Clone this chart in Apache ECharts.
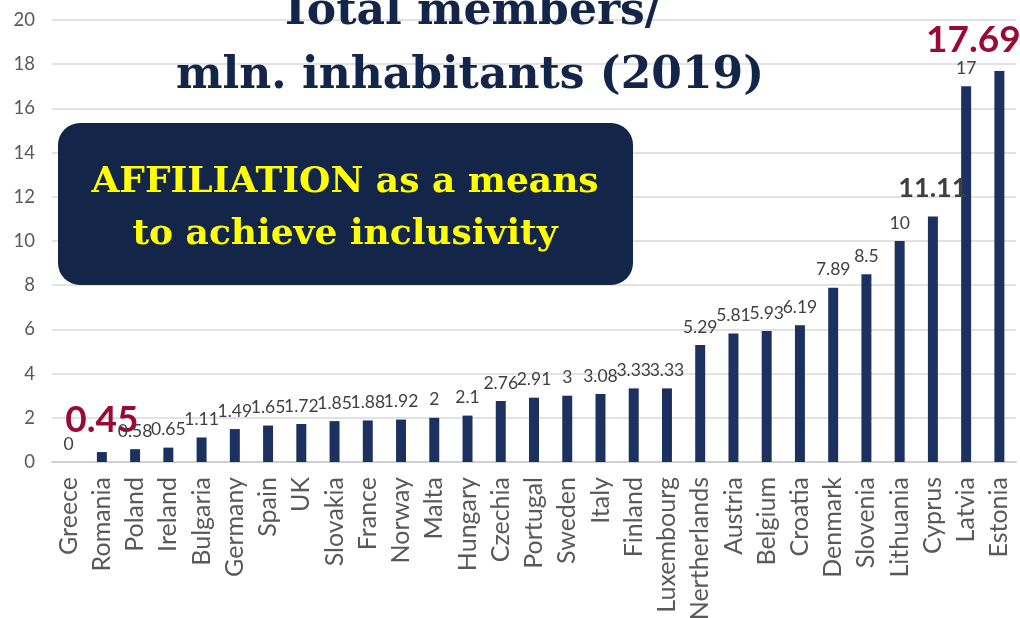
<!DOCTYPE html>
<html>
<head>
<meta charset="utf-8">
<script src="https://cdn.jsdelivr.net/npm/echarts@6/dist/echarts.min.js"></script>
<style>
html,body{margin:0;padding:0;background:#fff;}
#chart{width:1020px;height:618px;}
</style>
</head>
<body>
<div id="chart"></div>
<script>
const categories = ['Greece','Romania','Poland','Ireland','Bulgaria','Germany','Spain','UK','Slovakia','France','Norway','Malta','Hungary','Czechia','Portugal','Sweden','Italy','Finland','Luxembourg','Nertherlands','Austria','Belgium','Croatia','Denmark','Slovenia','Lithuania','Cyprus','Latvia','Estonia'];
const values = [0,0.45,0.58,0.65,1.11,1.49,1.65,1.72,1.85,1.88,1.92,2,2.1,2.76,2.91,3,3.08,3.33,3.33,5.29,5.81,5.93,6.19,7.89,8.5,10,11.11,17,17.69];
const yTicks = [0,2,4,6,8,10,12,14,16,18,20];
const titleLines = ['Total members/','mln. inhabitants (2019)'];
const boxLines = ['AFFILIATION as a means','to achieve inclusivity'];

const highlight = {
  'Romania': {fontSize:37, fontWeight:'bold', color:'#9b0a36', distance:13},
  'Estonia': {fontSize:37, fontWeight:'bold', color:'#9b0a36', distance:12, offset:[-26,0]},
  'Cyprus':  {fontSize:27, fontWeight:'bold', color:'#404040', distance:15}
};

const seriesData = values.map((v,i)=>{
  const h = highlight[categories[i]];
  return h ? {value:v, label:h} : v;
});

const chart = echarts.init(document.getElementById('chart'), null, {renderer:'canvas'});
chart.setOption({
  animation:false,
  grid:{left:52,right:4,top:20,bottom:156,containLabel:false,outerBoundsMode:'none'},
  xAxis:{
    type:'category',
    data:categories,
    axisLine:{lineStyle:{color:'#d0d0d0',width:2}},
    axisTick:{show:false},
    axisLabel:{rotate:90,interval:0,margin:15,color:'#595959',fontFamily:'Lato',fontSize:25}
  },
  yAxis:{
    type:'value',min:yTicks[0],max:yTicks[yTicks.length-1],interval:2,
    axisLine:{show:false},axisTick:{show:false},
    splitLine:{lineStyle:{color:'#d9d9d9',width:1.5}},
    axisLabel:{color:'#595959',fontFamily:'Lato',fontSize:18.5,margin:17}
  },
  series:[{
    type:'bar',
    data:seriesData,
    barWidth:'30%',
    itemStyle:{color:'#1c3160'},
    label:{show:true,position:'top',distance:9,color:'#404040',fontFamily:'Lato',fontSize:17.5}
  }],
  graphic:[
    {type:'text',z:100,style:{text:titleLines[0],x:470,y:13,align:'center',verticalAlign:'middle',fill:'#14254a',font:'bold 44px "DejaVu Serif"'}},
    {type:'text',z:100,style:{text:titleLines[1],x:470,y:77,align:'center',verticalAlign:'middle',fill:'#14254a',font:'bold 44px "DejaVu Serif"'}},
    {type:'rect',z:100,shape:{x:58,y:123,width:575,height:162,r:22},style:{fill:'#14254a'}},
    {type:'text',z:101,style:{text:boxLines[0],x:345,y:183,align:'center',verticalAlign:'middle',fill:'#ffff00',font:'bold 36px "DejaVu Serif"'}},
    {type:'text',z:101,style:{text:boxLines[1],x:345,y:235,align:'center',verticalAlign:'middle',fill:'#ffff00',font:'bold 36px "DejaVu Serif"'}}
  ]
});
</script>
</body>
</html>
